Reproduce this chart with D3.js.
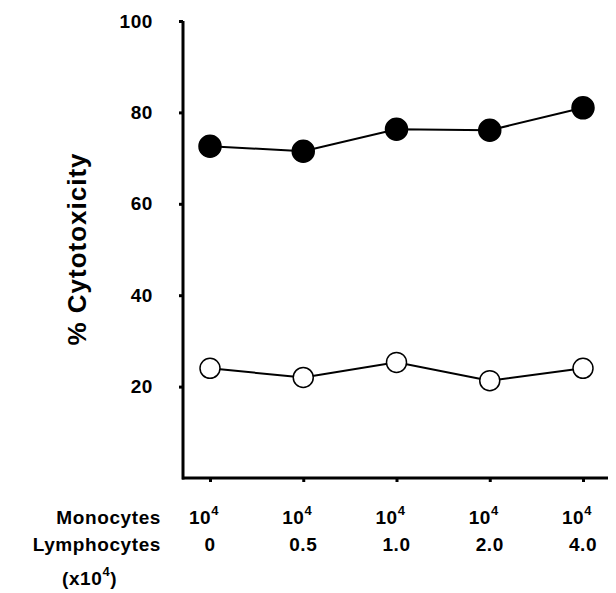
<!DOCTYPE html>
<html>
<head>
<meta charset="utf-8">
<script src="https://cdn.jsdelivr.net/npm/d3@7"></script>
<style>
  body { margin: 0; background: #fff; }
  text { font-family: "Liberation Sans", Arial, sans-serif; font-weight: bold; fill: #000; letter-spacing: 0.6px; }
</style>
</head>
<body>
<svg class="chart"></svg>
<script>
let monocytes   = ["10", "10", "10", "10", "10"];
let lymphocytes = ["0", "0.5", "1.0", "2.0", "4.0"];
let filled      = [72.6, 71.5, 76.3, 76.1, 81.0];
let open        = [24.0, 22.0, 25.3, 21.3, 24.0];
let yTicks      = [20, 40, 60, 80, 100];

let width  = 616;
let height = 593;
let svg    = d3.select(".chart").attr("width", width).attr("height", height);

let x = d3.scalePoint().domain(d3.range(lymphocytes.length)).range([210, 583]);
let y = d3.scaleLinear().domain([0, 100]).range([478, 21]);

// y axis
let yAxis = svg.append("g").attr("transform", "translate(183,0)")
  .call(d3.axisLeft(y).tickValues(yTicks).tickSize(4).tickPadding(26));
yAxis.select(".domain").remove();
yAxis.selectAll("line").attr("stroke-width", 3);
yAxis.selectAll("text").style("font-size", "19px");
svg.append("line")
  .attr("x1", 183).attr("x2", 183)
  .attr("y1", y(100)).attr("y2", y(0) + 1.5)
  .attr("stroke", "#000").attr("stroke-width", 3);

// x axis
let xAxis = svg.append("g").attr("transform", "translate(0,478)")
  .call(d3.axisBottom(x).tickSize(4).tickFormat(""));
xAxis.select(".domain").remove();
xAxis.selectAll("line").attr("stroke-width", 3);
svg.append("line")
  .attr("x1", 182).attr("x2", 608)
  .attr("y1", 478).attr("y2", 478)
  .attr("stroke", "#000").attr("stroke-width", 3);

// category labels
let mono = svg.append("g").selectAll("text").data(monocytes).join("text")
  .attr("x", (d, i) => x(i) - 6)
  .attr("y", 524)
  .attr("text-anchor", "middle")
  .style("font-size", "19px");
mono.append("tspan").text(d => d);
mono.append("tspan").attr("dy", -9).style("font-size", "13px").text("4");

svg.append("g").selectAll("text").data(lymphocytes).join("text")
  .attr("x", (d, i) => x(i))
  .attr("y", 551)
  .attr("text-anchor", "middle")
  .style("font-size", "19px")
  .text(d => d);

svg.append("text").attr("x", 161).attr("y", 524).attr("text-anchor", "end")
  .style("font-size", "19px").text("Monocytes");
svg.append("text").attr("x", 161).attr("y", 551).attr("text-anchor", "end")
  .style("font-size", "19px").text("Lymphocytes");
let unit = svg.append("text").attr("x", 62).attr("y", 585).style("font-size", "19px");
unit.append("tspan").text("(x10");
unit.append("tspan").attr("dy", -9).style("font-size", "13px").text("4");
unit.append("tspan").attr("dy", 9).text(")");

// y title
svg.append("text")
  .attr("transform", "translate(86,249) rotate(-90)")
  .attr("text-anchor", "middle")
  .style("font-size", "26px")
  .style("letter-spacing", "1px")
  .text("% Cytotoxicity");

let line = d3.line()
  .x(function(d, i) { return x(i); })
  .y(function(d) { return y(d); });

[filled, open].forEach(function(series, k) {
  svg.append("path")
    .attr("fill", "none")
    .attr("stroke", "#000")
    .attr("stroke-width", 2)
    .attr("d", line(series));
  svg.append("g").selectAll("circle").data(series).join("circle")
    .attr("cx", (d, i) => x(i))
    .attr("cy", d => y(d))
    .attr("r", k === 0 ? 11 : 10)
    .attr("fill", k === 0 ? "#000" : "#fff")
    .attr("stroke", "#000")
    .attr("stroke-width", 1.5);
});
</script>
</body>
</html>
